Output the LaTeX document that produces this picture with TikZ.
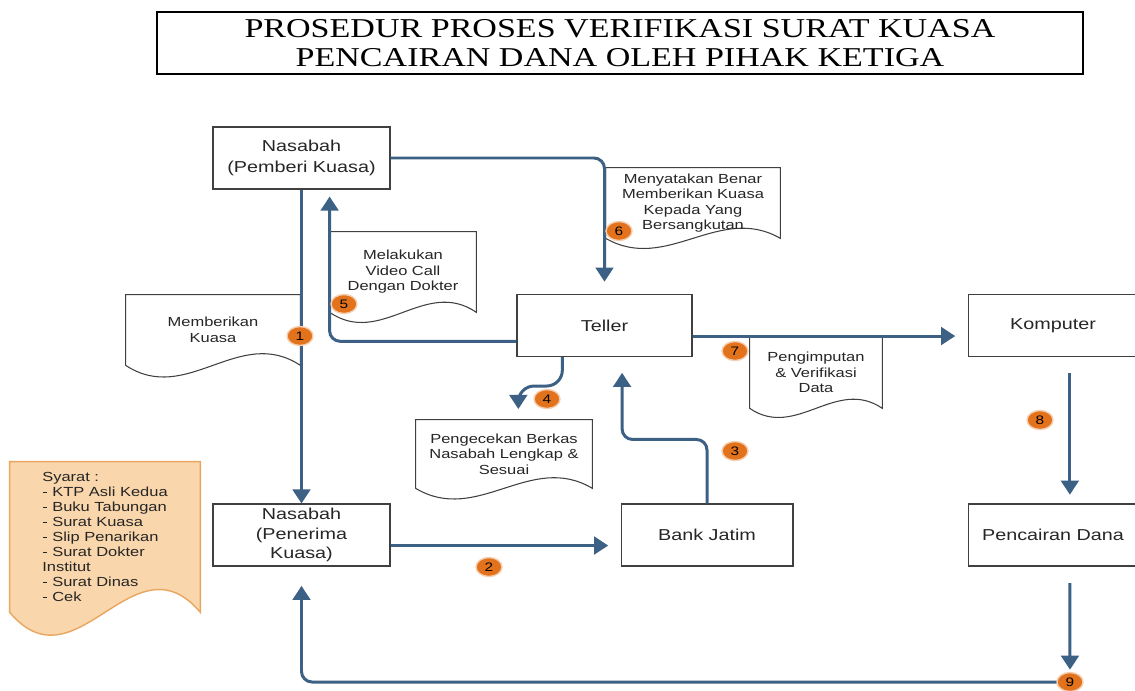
\documentclass[tikz,border=0pt]{standalone}
\usepackage{fontspec}
\setmainfont[FakeStretch=1.25]{Liberation Sans}
\newfontfamily\titlefont[FakeStretch=1.25]{Liberation Serif}
\usetikzlibrary{arrows.meta,calc,shapes.geometric,backgrounds}
\definecolor{flowblue}{HTML}{3C6184}
\definecolor{badgeorange}{HTML}{E2731C}
\definecolor{syaratfill}{HTML}{F9D6AB}
\definecolor{syaratline}{HTML}{E9A660}
\tikzset{
  titlebox/.style = {draw=black, line width=0.7pt, minimum width=18.52cm,
    minimum height=1.24cm, align=center, inner sep=0pt,
    font=\titlefont\fontsize{15.5}{16.5}\selectfont},
  proc/.style = {draw=black!75, line width=0.6pt, minimum height=1.24cm,
    align=center, inner sep=0pt, text=black!85,
    font=\fontsize{9}{12}\selectfont},% process box
  doc/.style = {inner sep=0pt, align=center, text=black!85,
    font=\fontsize{7.5}{8.8}\selectfont},% text of a document
  num/.style = {ellipse, fill=badgeorange, draw=badgeorange!35, line width=0.8pt,
    inner sep=0pt, minimum width=0.52cm, minimum height=0.38cm,
    font=\fontsize{7}{7}\selectfont},% step number
  flow/.style = {draw=flowblue, line width=1.7pt, rounded corners=6pt,
    -{Triangle[width=10pt,length=8pt]}},
  flowline/.style = {draw=flowblue, line width=1.7pt, rounded corners=6pt}
}
% document outline with wavy bottom: node, fill, wave size
\newcommand{\docframe}[3]{%
  \draw[black!75, line width=0.6pt, fill=#2] (#1.south west) -- (#1.north west)
    -- (#1.north east) -- (#1.south east)
    .. controls ($(#1.south east)!0.35!(#1.south west)+(0,#3)$)
    and ($(#1.south east)!0.65!(#1.south west)+(0,-#3)$) .. (#1.south west) -- cycle;}
\begin{document}
\begin{tikzpicture}[x=0.02cm, y=-0.02cm]
\useasboundingbox (0,0) rectangle (1135,690);

% title
\node[titlebox] (judul) at (620,43) {PROSEDUR PROSES VERIFIKASI SURAT KUASA\\PENCAIRAN DANA OLEH PIHAK KETIGA};

% process boxes
\node[proc, minimum width=3.54cm] (pemberi) at (301.5,158) {Nasabah\\(Pemberi Kuasa)};
\node[proc, minimum width=3.54cm, font=\fontsize{9}{11}\selectfont] (penerima) at (301.5,535) {Nasabah\\(Penerima\\Kuasa)};
\node[proc, minimum width=3.5cm] (teller) at (604.5,325.5) {Teller};
\node[proc, minimum width=3.44cm] (bankjatim) at (707,535) {Bank Jatim};
\node[proc, minimum width=3.4cm] (komputer) at (1053,325.5) {Komputer};
\node[proc, minimum width=3.4cm] (pencairan) at (1053,535) {Pencairan Dana};

% documents
\node[doc, minimum width=3.48cm, minimum height=1.4cm] (kuasa) at (213,330) {Memberikan\\Kuasa};
\node[doc, minimum width=2.92cm, minimum height=1.6cm] (video) at (403,272) {Melakukan\\Video Call\\Dengan Dokter};
\node[doc, minimum width=3.48cm, minimum height=1.4cm] (benar) at (693,203) {Menyatakan Benar\\Memberikan Kuasa\\Kepada Yang\\Bersangkutan};
\node[doc, minimum width=2.64cm, minimum height=1.42cm] (input) at (816,372.5) {Pengimputan\\\& Verifikasi\\Data};
\node[doc, minimum width=3.52cm, minimum height=1.36cm] (cek) at (504,454) {Pengecekan Berkas\\Nasabah Lengkap \&\\Sesuai};
\node[doc, align=left, minimum width=3.8cm, minimum height=3cm,
  font=\fontsize{7.5}{8.5}\selectfont] (syarat) at (105,537)
  {Syarat :\\- KTP Asli Kedua\\- Buku Tabungan\\- Surat Kuasa\\- Slip Penarikan\\- Surat Dokter\\Institut\\- Surat Dinas\\- Cek};

\begin{scope}[on background layer]
  \fill[white] (0,0) rectangle (1135,690);
  \docframe{kuasa}{white}{23pt}
  \docframe{video}{white}{20pt}
  \docframe{benar}{white}{20pt}
  \docframe{input}{white}{18pt}
  \docframe{cek}{white}{21pt}
  \draw[syaratline, line width=0.8pt, fill=syaratfill] (syarat.south west) -- (syarat.north west)
    -- (syarat.north east) -- (syarat.south east)
    .. controls ($(syarat.south east)!0.35!(syarat.south west)+(0,45pt)$)
    and ($(syarat.south east)!0.65!(syarat.south west)+(0,-45pt)$) .. (syarat.south west) -- cycle;
\end{scope}

% connectors
\coordinate (p2) at ([yshift=-6pt]penerima.east);
\coordinate (t5) at ([yshift=-9pt]teller.west);
\coordinate (t7) at ([yshift=-6pt]teller.east);
\coordinate (c9) at (1070,682);
\draw[flow] (pemberi.south) -- (penerima.north);
\draw[flow, shorten >=7pt] (p2) -- (p2 -| bankjatim.west);
\draw[flow, shorten >=9pt] (bankjatim.north) -- ++(0,-64) -| ([xshift=10pt]teller.south);
\draw[flow, rounded corners=9pt] ([xshift=-24pt]teller.south) -- ++(0,29) -- ++(-44,0) -- ++(0,23);
\draw[flow, shorten >=4pt] (t5) -| ([xshift=16pt]pemberi.south);
\draw[flow, shorten >=7pt] (pemberi.east) -| (teller.north);
\draw[flow, shorten >=7pt] (t7) -- (t7 -| komputer.west);
\draw[flow, shorten <=9pt, shorten >=5pt] ([xshift=9.6pt]komputer.south) -- ([xshift=9.6pt]pencairan.north);
\draw[flow, shorten <=9.5pt, shorten >=7pt] ([xshift=9.6pt]pencairan.south) -- (c9);
\draw[flow, shorten >=11pt] (c9) -| (penerima.south);

% step numbers
\node[num] (n1) at (300,336) {1};
\node[num] (n2) at (489,567) {2};
\node[num] (n3) at (735,451) {3};
\node[num] (n4) at (547,399) {4};
\node[num] (n5) at (344,304) {5};
\node[num] (n6) at (619,231) {6};
\node[num] (n7) at (735,351) {7};
\node[num] (n8) at (1040,420) {8};
\node[num] (n9) at (c9) {9};
\end{tikzpicture}
\end{document}
